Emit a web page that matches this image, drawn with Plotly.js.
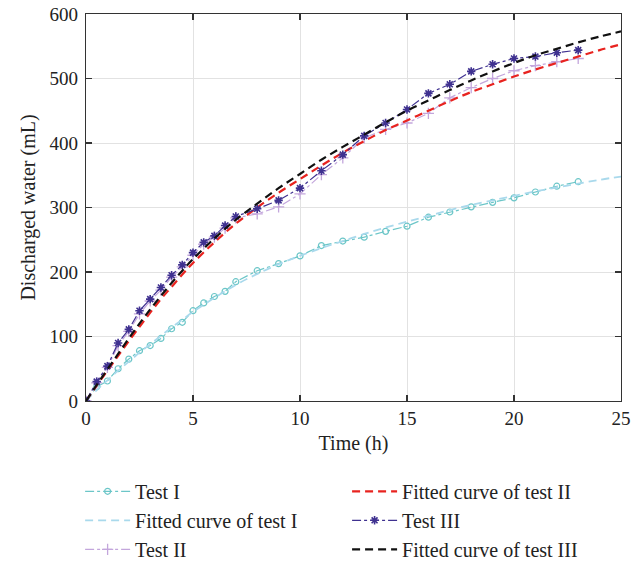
<!DOCTYPE html>
<html>
<head>
<meta charset="utf-8">
<script src="https://cdn.plot.ly/plotly-3.0.1.min.js"></script>
<style>html,body{margin:0;padding:0;background:#fff;}#chart{width:643px;height:562px;}</style>
</head>
<body>
<div id="chart"></div>
<script>
// Measured time points (h)
var testTime = [0,0.5,1,1.5,2,2.5,3,3.5,4,4.5,5,5.5,6,6.5,7,8,9,10,11,12,13,14,15,16,17,18,19,20,21,22,23];
var testI   = [0,22,31,50,65,78,86,97,112,122,140,152,162,170,185,202,213,225,241,248,254,263,271,285,293,301,308,315,324,333,340];
var testII  = [0,28,52,86,108,135,155,172,192,208,226,243,254,268,284,290,301,321,351,377,408,421,431,446,470,486,500,512,520,526,531];
var testIII = [0,30,54,90,111,140,158,176,195,211,230,246,256,272,286,298,311,330,357,382,411,431,452,477,491,511,522,531,534,540,544];

// Fitted curves
var fitTime = [0,0.5,1,1.5,2,2.5,3,3.5,4,4.5,5,6,7,8,9,10,11,12,13,14,15,16,17,18,19,20,21,22,23,24,25];
var fitI   = [0,17,32,47,61,75,88,101,114,126,138,160,180,197,212,225,237,248,259,269,278,287,296,304,311,318,325,331,337,343,348];
var fitII  = [0,24,47,70,93,115,137,158,177,196,214,246,275,300,323,344,365,385,403,420,435,450,465,479,491,503,514,524,534,544,553];
var fitIII = [0,25,49,73,97,120,142,163,183,202,220,252,281,306,330,352,374,394,413,432,450,466,482,497,511,524,536,546,556,565,573];

var names = ["Test I","Fitted curve of test I","Test II","Fitted curve of test II","Test III","Fitted curve of test III"];
var xTicks = [0,5,10,15,20,25];
var yTicks = [0,100,200,300,400,500,600];

var FONT = "Liberation Serif, Times New Roman, serif";

var traces = [
  {x: testTime, y: testI, name: names[0], mode: "lines+markers", line: {color: "#6cc6c8", dash: "dashdot", width: 1.2}, marker: {symbol: "circle-open", size: 6, color: "#6cc6c8", line: {width: 1.2}}, legend: "legend", legendgroup: "a"},
  {x: fitTime, y: fitI, name: names[1], mode: "lines", line: {color: "#a9d9ec", dash: "8px,5px", width: 1.8, shape: "spline"}, legend: "legend", legendgroup: "b"},
  {x: testTime, y: testII, name: names[2], mode: "lines+markers", line: {color: "#c3a6dc", dash: "dashdot", width: 1.2}, marker: {symbol: "cross-thin-open", size: 8, color: "#c3a6dc", line: {width: 1.3, color: "#c3a6dc"}}, legend: "legend", legendgroup: "c"},
  {x: fitTime, y: fitII, name: names[3], mode: "lines", line: {color: "#e8231f", dash: "8px,5px", width: 2.2, shape: "spline"}, legend: "legend2", legendgroup: "d"},
  {x: testTime, y: testIII, name: names[4], mode: "lines+markers", line: {color: "#3f3190", dash: "dashdot", width: 1.2}, marker: {symbol: "asterisk-open", size: 7, color: "#3f3190", line: {width: 1.6, color: "#3f3190"}}, legend: "legend2", legendgroup: "e"},
  {x: fitTime, y: fitIII, name: names[5], mode: "lines", line: {color: "#111111", dash: "8px,5px", width: 2.2, shape: "spline"}, legend: "legend2", legendgroup: "f"}
];

var axisCommon = {
  showline: true, linecolor: "#333", linewidth: 1.2, mirror: "ticks",
  ticks: "inside", ticklen: 6, tickcolor: "#333", tickwidth: 1.2,
  showgrid: true, gridcolor: "#e2e2e2", gridwidth: 1, zeroline: false,
  tickfont: {family: FONT, size: 19, color: "#222"}
};

var layout = {
  width: 643, height: 562,
  margin: {l: 86, r: 22, t: 14, b: 161, autoexpand: false},
  paper_bgcolor: "#fff", plot_bgcolor: "#fff",
  font: {family: FONT, size: 20, color: "#222"},
  xaxis: Object.assign({}, axisCommon, {range: [0, 25], tickvals: xTicks, ticktext: xTicks.map(String), ticklabelstandoff: 0,
    title: {text: "Time (h)", font: {family: FONT, size: 20, color: "#222"}, standoff: 8}}),
  yaxis: Object.assign({}, axisCommon, {range: [0, 600], tickvals: yTicks, ticktext: yTicks.map(String), ticklabelstandoff: 3,
    title: {text: "Discharged water (mL)", font: {family: FONT, size: 20, color: "#222"}, standoff: 8}}),
  legend: {x: -0.011, y: -0.183, xanchor: "left", yanchor: "top", orientation: "v",
    traceorder: "grouped", tracegroupgap: 0, itemwidth: 45, bgcolor: "rgba(0,0,0,0)",
    font: {family: FONT, size: 20, color: "#222"}},
  legend2: {x: 0.488, y: -0.183, xanchor: "left", yanchor: "top", orientation: "v",
    traceorder: "grouped", tracegroupgap: 0, itemwidth: 45, bgcolor: "rgba(0,0,0,0)",
    font: {family: FONT, size: 20, color: "#222"}},
  showlegend: true
};

Plotly.newPlot("chart", traces, layout, {staticPlot: true, displayModeBar: false});
</script>
</body>
</html>
